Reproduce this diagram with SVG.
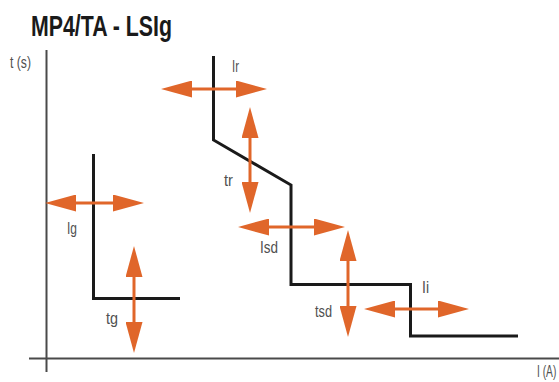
<svg xmlns="http://www.w3.org/2000/svg" width="559" height="382" viewBox="0 0 559 382">
<defs>
<style>
.axis{stroke:#4a4a4a;stroke-width:2;fill:none}
.curve{stroke:#1a1a1a;stroke-width:3;fill:none;stroke-linejoin:miter}
.arr{stroke:#e0662a;stroke-width:3;fill:none;marker-start:url(#ah);marker-end:url(#ah)}
.lbl{font-family:"Liberation Sans",Arial,sans-serif;font-size:16.5px;fill:#505050}
.title{font-family:"Liberation Sans",Arial,sans-serif;font-size:29px;font-weight:bold;fill:#1a1a1a}
</style>
<marker id="ah" markerUnits="userSpaceOnUse" markerWidth="31" markerHeight="17" refX="21" refY="8.5" orient="auto-start-reverse" viewBox="0 0 31 17">
<path d="M0,0 L31,8.5 L0,17 z" fill="#e0662a"/>
</marker>
</defs>
<rect width="559" height="382" fill="#fff"/>
<text class="title" x="31" y="36" textLength="141" lengthAdjust="spacingAndGlyphs">MP4/TA - LSIg</text>
<g id="axes">
<line class="axis" x1="46.5" y1="50" x2="46.5" y2="372"/>
<line class="axis" x1="29" y1="358.5" x2="559" y2="358.5"/>
<text class="lbl" x="10" y="68" textLength="21" lengthAdjust="spacingAndGlyphs">t (s)</text>
<text class="lbl" transform="translate(537,377) scale(0.62,1)" x="0" y="0">I (A)</text>
</g>
<g id="curve-g">
<polyline class="curve" points="93.5,154 93.5,298.5 180,298.5"/>
</g>
<g id="curve-lsi">
<polyline class="curve" points="213.5,56 213.5,140 291,185 291,284.5 410.5,284.5 410.5,336 518,336"/>
</g>
<g id="connectors">
<line class="arr" x1="55" y1="203" x2="134" y2="203"/>
<line class="arr" x1="134" y1="256" x2="134" y2="343"/>
<line class="arr" x1="171" y1="89" x2="257" y2="89"/>
<line class="arr" x1="250" y1="117" x2="250" y2="203"/>
<line class="arr" x1="248" y1="227" x2="335" y2="227"/>
<line class="arr" x1="348" y1="240" x2="348" y2="327"/>
<line class="arr" x1="374" y1="309" x2="459" y2="309"/>
</g>
<g id="Ig"><text class="lbl" x="67" y="234" textLength="10" lengthAdjust="spacingAndGlyphs">Ig</text></g>
<g id="tg"><text class="lbl" x="106" y="324" textLength="12" lengthAdjust="spacingAndGlyphs">tg</text></g>
<g id="Ir"><text class="lbl" x="232" y="72" textLength="7" lengthAdjust="spacingAndGlyphs">Ir</text></g>
<g id="tr"><text class="lbl" x="224" y="186" textLength="9" lengthAdjust="spacingAndGlyphs">tr</text></g>
<g id="Isd"><text class="lbl" x="260" y="253" textLength="18" lengthAdjust="spacingAndGlyphs">Isd</text></g>
<g id="tsd"><text class="lbl" x="315" y="317" textLength="17" lengthAdjust="spacingAndGlyphs">tsd</text></g>
<g id="Ii"><text class="lbl" x="422" y="293" textLength="7" lengthAdjust="spacingAndGlyphs">Ii</text></g>
</svg>
